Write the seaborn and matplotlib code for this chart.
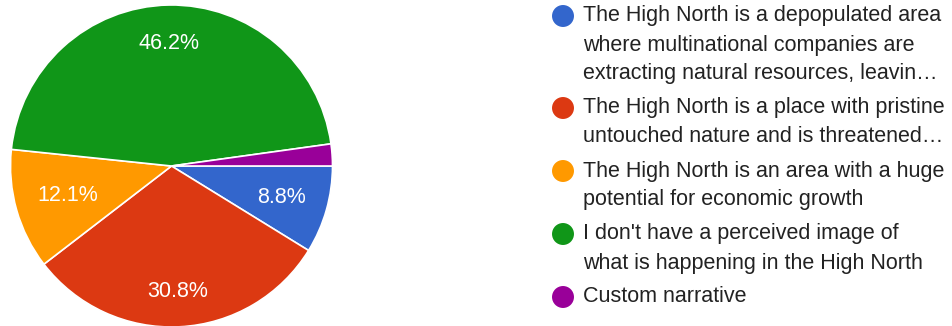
import numpy as np
import matplotlib
matplotlib.use("Agg")
import matplotlib.pyplot as plt
import seaborn as sns

# Survey responses (counts per answer)
categories = [
    "The High North is a depopulated area\nwhere multinational companies are\nextracting natural resources, leavin\u2026",
    "The High North is a place with pristine\nuntouched nature and is threatened\u2026",
    "The High North is an area with a huge\npotential for economic growth",
    "I don't have a perceived image of\nwhat is happening in the High North",
    "Custom narrative",
]
counts = [8, 28, 11, 42, 2]
colors = ["#3366cc", "#dc3912", "#ff9900", "#109618", "#990099"]

sns.set_theme(style="white")
plt.rcParams["font.family"] = ["Liberation Sans", "DejaVu Sans"]

W, H = 952, 326
fig = plt.figure(figsize=(W / 100, H / 100), dpi=100)
fig.patch.set_facecolor("white")

# Pie axes: centre (171.5, 166) px, radius 161 px
cx, cy, r = 171.5, 166, 161
ax = fig.add_axes([(cx - r) / W, (H - cy - r) / H, 2 * r / W, 2 * r / H])
wedges, _ = ax.pie(
    counts,
    colors=colors,
    startangle=0,
    counterclock=False,
    radius=1,
    wedgeprops=dict(edgecolor="white", linewidth=1.2),
)
ax.set_xlim(-1, 1)
ax.set_ylim(-1, 1)
ax.set_aspect("equal")
ax.axis("off")

total = sum(counts)
label_dist = [0.71, 0.78, 0.67, 0.76, 0.75]
for w, c, d in zip(wedges, counts, label_dist):
    pct = c / total * 100
    if pct < 5:
        continue
    mid = np.deg2rad((w.theta1 + w.theta2) / 2)
    ax.text(d * np.cos(mid), d * np.sin(mid), f"{pct:.1f}%",
            ha="center", va="center", color="white", fontsize=15.5)

# Legend drawn in pixel coordinates
lax = fig.add_axes([0, 0, 1, 1])
lax.set_xlim(0, W)
lax.set_ylim(H, 0)
lax.axis("off")
line_h = 29
item_gap = 34
y = 16
for label, col in zip(categories, colors):
    lax.scatter([563], [y], s=250, color=col, edgecolors="none")
    lines = label.split("\n")
    for i, ln in enumerate(lines):
        lax.text(583, y + i * line_h, ln, ha="left", va="center",
                 fontsize=15.5, color="#222222")
    y += (len(lines) - 1) * line_h + item_gap

fig.savefig("out.png", dpi=100, facecolor="white")
